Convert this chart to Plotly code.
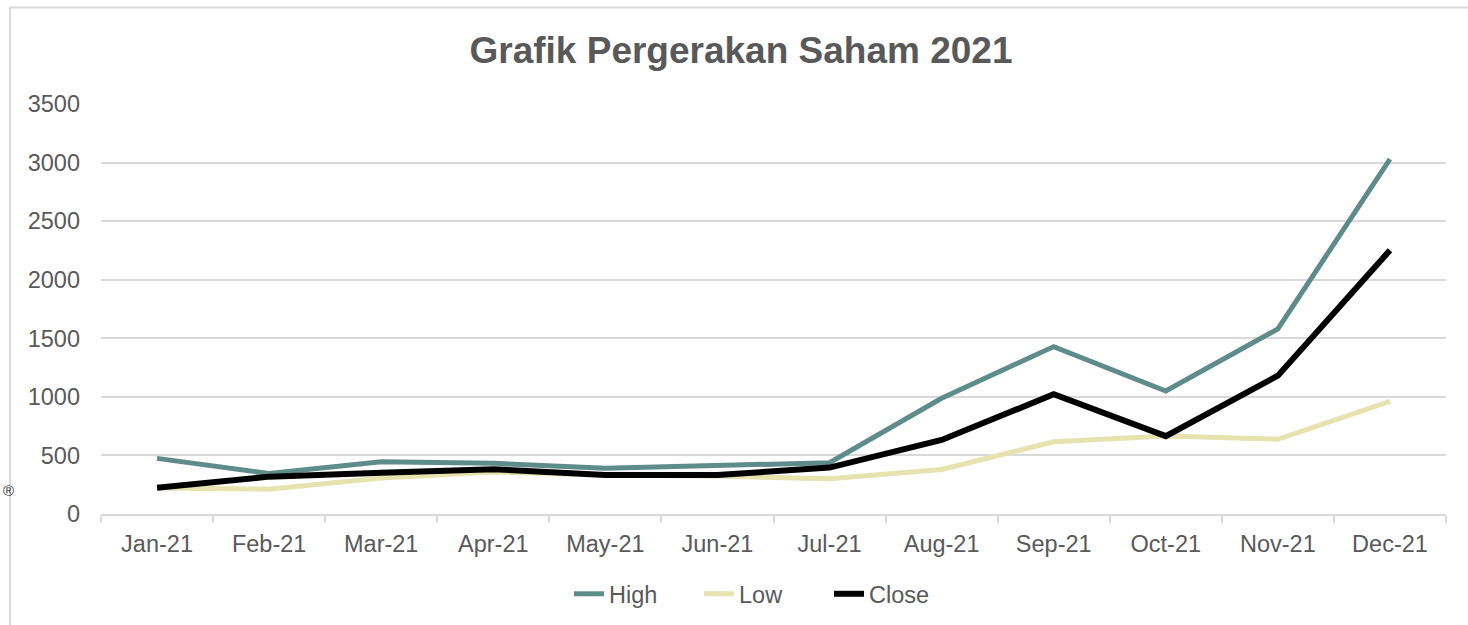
import plotly.graph_objects as go

months = ["Jan-21", "Feb-21", "Mar-21", "Apr-21", "May-21", "Jun-21",
          "Jul-21", "Aug-21", "Sep-21", "Oct-21", "Nov-21", "Dec-21"]
high = [475, 345, 447, 433, 390, 418, 438, 988, 1429, 1050, 1580, 3030]
low = [222, 212, 308, 358, 333, 324, 300, 380, 617, 666, 638, 962]
close = [225, 319, 352, 382, 333, 333, 396, 632, 1022, 665, 1181, 2251]
y_ticks = [0, 500, 1000, 1500, 2000, 2500, 3000, 3500]

W, H = 1468, 625
L, R, T, B = 101, 22, 104, 111
pw, ph = W - L - R, H - T - B

def px_to_paper_x(px):
    return (px - L) / pw

def px_to_paper_y(py):
    return (H - B - py) / ph

fig = go.Figure()
fig.add_trace(go.Scatter(x=months, y=high, name="High", mode="lines",
                         line=dict(color="#5E8C8A", width=5)))
fig.add_trace(go.Scatter(x=months, y=low, name="Low", mode="lines",
                         line=dict(color="#E6E3AE", width=5)))
fig.add_trace(go.Scatter(x=months, y=close, name="Close", mode="lines",
                         line=dict(color="#000000", width=6)))

font_family = "Liberation Sans, Arial, sans-serif"
fs = 23.5

fig.update_layout(
    width=W, height=H,
    margin=dict(l=L, r=R, t=T, b=B, autoexpand=False),
    paper_bgcolor="white", plot_bgcolor="white",
    font=dict(family=font_family, color="#595959", size=fs),
    title=dict(text="<b>Grafik Pergerakan Saham 2021</b>",
               x=741 / W, xanchor="center", xref="container",
               y=1 - 50 / H, yanchor="middle", yref="container",
               font=dict(size=37, color="#595959", family=font_family)),
    showlegend=True,
    legend=dict(orientation="h", x=764 / W, xanchor="center", xref="container",
                y=1 - 594 / H, yanchor="middle", yref="container",
                font=dict(size=fs, color="#595959"),
                entrywidth=85, entrywidthmode="pixels", tracegroupgap=0),
    xaxis=dict(type="category", range=[-0.5, 11.5], showgrid=False,
               showline=True, linecolor="#D9D9D9", linewidth=2,
               ticks="outside", tickson="boundaries", ticklen=7,
               tickcolor="#D9D9D9", tickwidth=2, ticklabelstandoff=8,
               tickfont=dict(size=fs, color="#595959"), fixedrange=True),
    yaxis=dict(range=[0, 3500], tickvals=y_ticks,
               ticktext=[str(v) for v in y_ticks],
               showgrid=True, gridcolor="#D9D9D9", gridwidth=2,
               zeroline=False, showline=False, ticks="",
               ticklabelstandoff=20,
               tickfont=dict(size=fs, color="#595959"), fixedrange=True),
)

# chart-area border (extends beyond the right and bottom edges of the image)
fig.add_shape(type="rect", xref="paper", yref="paper",
              x0=px_to_paper_x(10), x1=px_to_paper_x(1480),
              y0=px_to_paper_y(640), y1=px_to_paper_y(7.5),
              line=dict(color="#D9D9D9", width=2), fillcolor="rgba(0,0,0,0)",
              layer="below")

fig.add_annotation(text="®", xref="paper", yref="paper",
                   x=px_to_paper_x(1), y=px_to_paper_y(490),
                   xanchor="left", yanchor="middle", showarrow=False,
                   font=dict(size=15, color="#333333"))

fig.write_html("out.html",
               config={"displayModeBar": False},
               post_script="document.body.style.margin='0px';"
                           "document.body.style.overflow='hidden';")
